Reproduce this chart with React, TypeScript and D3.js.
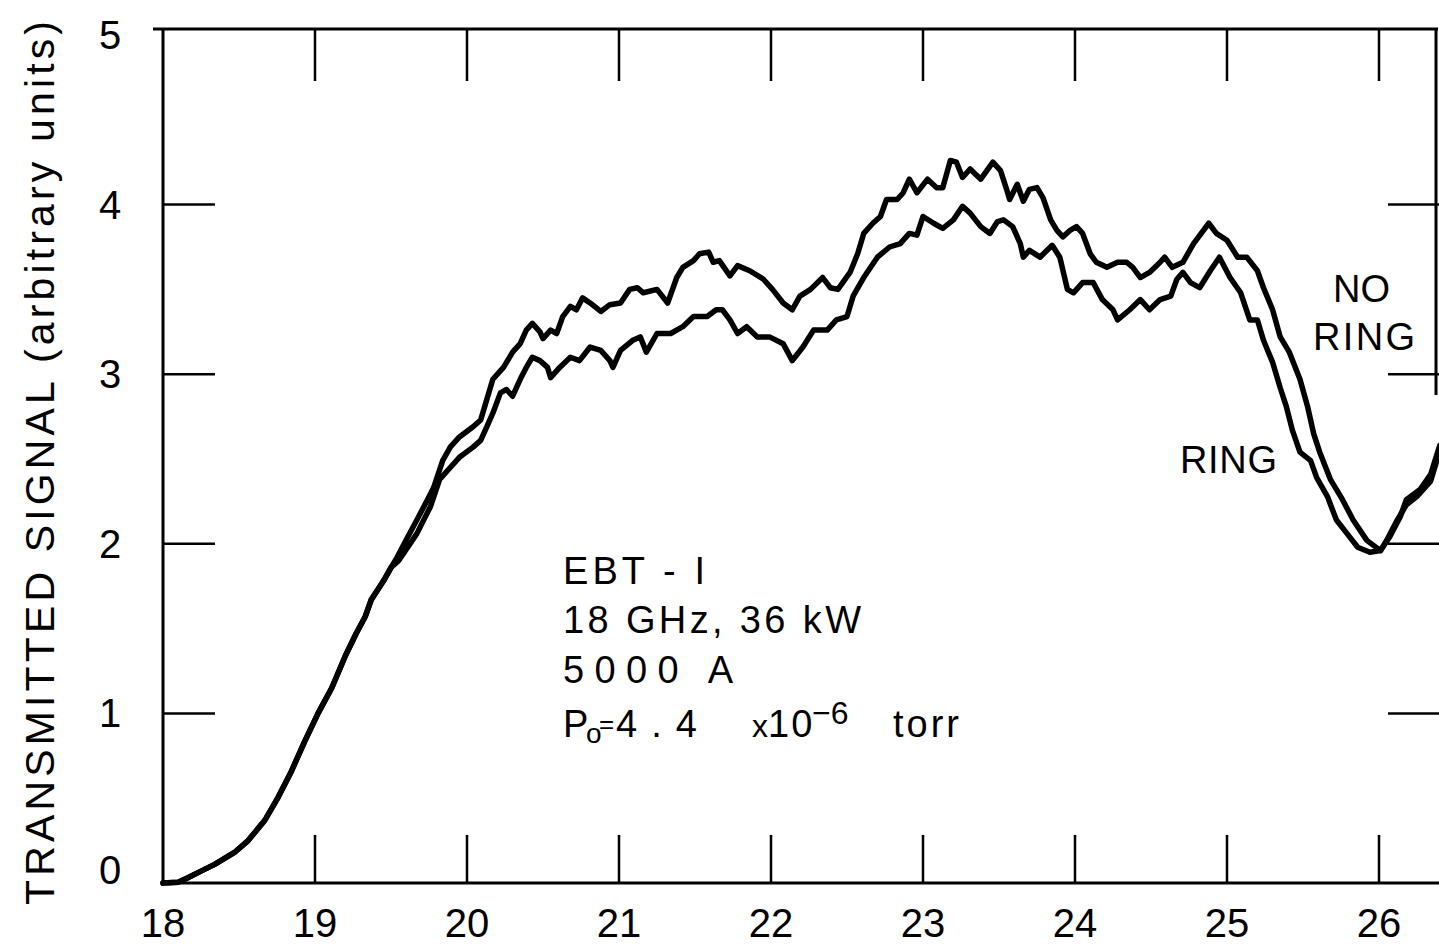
import React from "react";
import * as d3 from "d3";

const freqTicks = [18, 19, 20, 21, 22, 23, 24, 25, 26];
const signalTicks = [0, 1, 2, 3, 4, 5];
const innerYTicks = [1, 2, 3, 4];

const riseCommon: [number, number][] = [
  [18.0, 0.0], [18.1, 0.005], [18.16, 0.03], [18.25, 0.07], [18.34, 0.11], [18.47, 0.18],
  [18.56, 0.25], [18.67, 0.37], [18.76, 0.51], [18.84, 0.65], [18.93, 0.83], [19.02, 1.0],
  [19.11, 1.15], [19.2, 1.34], [19.27, 1.47], [19.33, 1.57], [19.37, 1.67], [19.45, 1.78],
  [19.5, 1.86],
];

const noRing: [number, number][] = [
  [19.54, 1.92], [19.61, 2.04], [19.67, 2.14], [19.74, 2.26], [19.78, 2.33], [19.84, 2.49],
  [19.89, 2.57], [19.95, 2.63], [20.04, 2.69], [20.09, 2.73], [20.13, 2.85], [20.17, 2.97],
  [20.24, 3.04], [20.3, 3.13], [20.35, 3.18], [20.39, 3.26], [20.43, 3.3], [20.48, 3.25],
  [20.5, 3.21], [20.55, 3.26], [20.59, 3.24], [20.63, 3.34], [20.68, 3.4], [20.72, 3.38],
  [20.76, 3.45], [20.81, 3.42], [20.88, 3.37], [20.94, 3.41], [21.01, 3.42], [21.07, 3.5],
  [21.12, 3.51], [21.16, 3.48], [21.25, 3.5], [21.32, 3.42], [21.38, 3.57], [21.42, 3.63],
  [21.49, 3.67], [21.53, 3.71], [21.59, 3.72], [21.62, 3.66], [21.66, 3.67], [21.73, 3.58],
  [21.78, 3.64], [21.86, 3.61], [21.95, 3.56], [22.01, 3.5], [22.08, 3.42], [22.14, 3.38],
  [22.19, 3.46], [22.26, 3.5], [22.34, 3.57], [22.39, 3.51], [22.44, 3.5], [22.52, 3.6],
  [22.57, 3.71], [22.61, 3.83], [22.67, 3.89], [22.72, 3.93], [22.76, 4.03], [22.83, 4.03],
  [22.87, 4.07], [22.91, 4.15], [22.96, 4.07], [23.03, 4.15], [23.09, 4.1], [23.13, 4.1],
  [23.18, 4.26], [23.22, 4.25], [23.26, 4.16], [23.31, 4.21], [23.38, 4.15], [23.42, 4.2],
  [23.46, 4.25], [23.51, 4.2], [23.55, 4.09], [23.57, 4.03], [23.62, 4.12], [23.66, 4.02],
  [23.7, 4.09], [23.75, 4.1], [23.79, 4.04], [23.84, 3.91], [23.88, 3.85], [23.92, 3.81],
  [23.97, 3.85], [24.01, 3.87], [24.05, 3.83], [24.1, 3.71], [24.14, 3.66], [24.21, 3.63],
  [24.28, 3.66], [24.34, 3.66], [24.38, 3.63], [24.43, 3.57], [24.49, 3.6], [24.56, 3.66],
  [24.59, 3.69], [24.64, 3.63], [24.71, 3.66], [24.78, 3.77], [24.88, 3.89], [24.93, 3.83],
  [25.0, 3.79], [25.07, 3.69], [25.13, 3.69], [25.2, 3.61], [25.24, 3.51], [25.3, 3.38],
  [25.35, 3.22], [25.41, 3.13], [25.48, 2.97], [25.53, 2.81], [25.57, 2.65], [25.61, 2.54],
  [25.68, 2.38], [25.76, 2.26], [25.83, 2.14], [25.92, 2.02], [26.01, 1.96], [26.07, 2.04],
  [26.14, 2.16], [26.18, 2.26], [26.27, 2.32], [26.34, 2.41], [26.4, 2.58],
];

const ring: [number, number][] = [
  [19.55, 1.9], [19.67, 2.06], [19.76, 2.22], [19.82, 2.38], [19.89, 2.45], [19.95, 2.51],
  [20.04, 2.57], [20.09, 2.61], [20.13, 2.69], [20.17, 2.77], [20.22, 2.89], [20.26, 2.91],
  [20.3, 2.87], [20.35, 2.97], [20.39, 3.04], [20.43, 3.1], [20.48, 3.08], [20.53, 3.04],
  [20.55, 2.98], [20.61, 3.04], [20.68, 3.1], [20.74, 3.08], [20.81, 3.16], [20.88, 3.14],
  [20.94, 3.08], [20.96, 3.04], [21.01, 3.14], [21.09, 3.2], [21.14, 3.22], [21.18, 3.13],
  [21.25, 3.24], [21.34, 3.24], [21.42, 3.28], [21.49, 3.34], [21.58, 3.34], [21.64, 3.38],
  [21.68, 3.38], [21.73, 3.32], [21.78, 3.24], [21.84, 3.28], [21.91, 3.22], [21.99, 3.22],
  [22.08, 3.18], [22.14, 3.08], [22.21, 3.16], [22.28, 3.26], [22.37, 3.26], [22.43, 3.32],
  [22.5, 3.34], [22.54, 3.46], [22.61, 3.57], [22.7, 3.69], [22.78, 3.75], [22.85, 3.77],
  [22.91, 3.83], [22.96, 3.82], [23.0, 3.93], [23.07, 3.89], [23.13, 3.86], [23.2, 3.91],
  [23.26, 3.99], [23.31, 3.95], [23.38, 3.87], [23.44, 3.83], [23.49, 3.9], [23.53, 3.91],
  [23.59, 3.87], [23.64, 3.77], [23.66, 3.69], [23.7, 3.73], [23.77, 3.69], [23.85, 3.76],
  [23.9, 3.69], [23.95, 3.5], [23.99, 3.48], [24.05, 3.54], [24.12, 3.54], [24.18, 3.44],
  [24.25, 3.38], [24.28, 3.32], [24.36, 3.38], [24.43, 3.44], [24.49, 3.38], [24.56, 3.44],
  [24.63, 3.46], [24.67, 3.56], [24.71, 3.6], [24.76, 3.54], [24.82, 3.51], [24.89, 3.61],
  [24.95, 3.69], [25.02, 3.57], [25.09, 3.48], [25.15, 3.32], [25.2, 3.32], [25.24, 3.2],
  [25.3, 3.07], [25.35, 2.92], [25.39, 2.81], [25.43, 2.67], [25.48, 2.54], [25.55, 2.49],
  [25.59, 2.39], [25.66, 2.28], [25.72, 2.14], [25.79, 2.06], [25.86, 1.98], [25.94, 1.95],
  [26.01, 1.96], [26.05, 2.02], [26.12, 2.14], [26.18, 2.23], [26.25, 2.28], [26.34, 2.37],
  [26.4, 2.55],
];

const W = 1439;
const H = 946;
const FONT = "'Liberation Sans', Arial, sans-serif";

export default function App() {
  const x = d3.scaleLinear().domain([18, 26]).range([163, 1379]);
  const y = d3.scaleLinear().domain([0, 5]).range([883, 35]);
  const line = d3
    .line<[number, number]>()
    .x((d) => x(d[0]))
    .y((d) => y(d[1]))
    .curve(d3.curveLinear);

  const frameTop = 29;
  const left = x(18);
  const bottom = y(0);
  const rightEdge = 1436;

  return (
    <svg
      width={W}
      height={H}
      style={{ position: "absolute", left: 0, top: 0, background: "#fff" }}
      fontFamily={FONT}
    >
      <defs>
        <clipPath id="plotclip">
          <rect x={0} y={0} width={W} height={H} />
        </clipPath>
      </defs>
      <rect x={0} y={0} width={W} height={H} fill="#fff" />

      {/* frame */}
      <line x1={left - 10} y1={frameTop} x2={rightEdge + 2} y2={frameTop} stroke="#000" strokeWidth={3} />
      <line x1={left} y1={frameTop} x2={left} y2={bottom} stroke="#000" strokeWidth={3} />
      <line x1={left} y1={bottom} x2={W} y2={bottom} stroke="#000" strokeWidth={3} />
      <line x1={rightEdge} y1={frameTop} x2={rightEdge} y2={395} stroke="#000" strokeWidth={3} />

      {/* x ticks top & bottom */}
      {freqTicks.slice(1).map((t) => (
        <g key={"xt" + t}>
          <line x1={x(t)} y1={frameTop} x2={x(t)} y2={frameTop + 52} stroke="#000" strokeWidth={2.5} />
          <line x1={x(t)} y1={bottom} x2={x(t)} y2={bottom - 48} stroke="#000" strokeWidth={2.5} />
        </g>
      ))}
      {/* y ticks left & right */}
      {innerYTicks.map((t) => (
        <g key={"yt" + t}>
          <line x1={left} y1={y(t)} x2={left + 52} y2={y(t)} stroke="#000" strokeWidth={2.5} />
          <line x1={rightEdge - 48} y1={y(t)} x2={W} y2={y(t)} stroke="#000" strokeWidth={2.5} />
        </g>
      ))}

      {/* tick labels */}
      {freqTicks.map((t) => (
        <text key={"xl" + t} x={x(t)} y={937} fontSize={40} textAnchor="middle" fill="#000">
          {t}
        </text>
      ))}
      {signalTicks.map((t) => (
        <text
          key={"yl" + t}
          x={110}
          y={t === 0 ? 870 : y(t)}
          fontSize={40}
          textAnchor="middle"
          dominantBaseline="central"
          fill="#000"
        >
          {t}
        </text>
      ))}

      {/* y axis title */}
      <text
        transform={`translate(54,463) rotate(-90)`}
        fontSize={41}
        textAnchor="middle"
        textLength={884}
        lengthAdjust="spacing"
        fill="#000"
      >
        TRANSMITTED SIGNAL (arbitrary units)
      </text>

      {/* curves */}
      <g clipPath="url(#plotclip)" fill="none" stroke="#000" strokeWidth={5.5} strokeLinejoin="round" strokeLinecap="round">
        <path d={line([...riseCommon, ...noRing]) || ""} />
        <path d={line([...riseCommon, ...ring]) || ""} />
      </g>

      {/* annotations */}
      <g fill="#000" fontSize={38}>
        <text x={563} y={584} textLength={142} lengthAdjust="spacing">EBT - I</text>
        <text x={563} y={633} textLength={298} lengthAdjust="spacing">18 GHz, 36 kW</text>
        <text x={563} y={683} textLength={170} lengthAdjust="spacing">5000 A</text>
        <text x={563} y={737}>
          P
          <tspan x={586} y={743} fontSize={28}>o</tspan>
          <tspan x={599} y={733} fontSize={26}>=</tspan>
          <tspan x={616} y={737} letterSpacing={14}>4.4</tspan>
          <tspan x={752} y={737} fontSize={32}>x</tspan>
          <tspan x={768} y={737} letterSpacing={2}>10</tspan>
          <tspan x={812} y={724} fontSize={32}>−6</tspan>
          <tspan x={893} y={737} letterSpacing={3}>torr</tspan>
        </text>
        <text x={1333} y={302} textLength={57} lengthAdjust="spacing">NO</text>
        <text x={1313} y={350} textLength={102} lengthAdjust="spacing">RING</text>
        <text x={1180} y={473} textLength={97} lengthAdjust="spacing">RING</text>
      </g>
    </svg>
  );
}
